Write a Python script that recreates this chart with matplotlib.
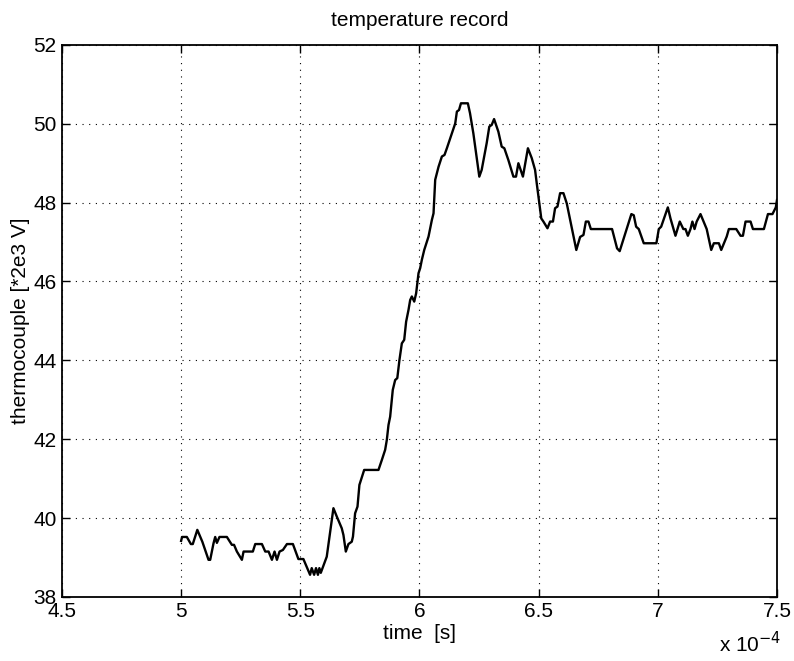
import matplotlib.pyplot as plt

plt.rcParams['font.family'] = ['Liberation Sans', 'DejaVu Sans']

# time in units of 1e-4 s, thermocouple reading [*2e3 V]
time = [5.000, 5.004, 5.024, 5.041, 5.049, 5.068, 5.089, 5.115, 5.122, 5.136,
        5.143, 5.150, 5.161, 5.192, 5.213, 5.222, 5.234, 5.255, 5.262, 5.301,
        5.311, 5.339, 5.353, 5.367, 5.381, 5.392, 5.402, 5.413, 5.427, 5.444,
        5.469, 5.492, 5.513, 5.541, 5.548, 5.558, 5.566, 5.574, 5.580, 5.586,
        5.611, 5.639, 5.653, 5.674, 5.681, 5.691, 5.702, 5.716, 5.721, 5.730,
        5.740, 5.748, 5.768, 5.828, 5.842, 5.856, 5.863, 5.870, 5.877, 5.888,
        5.898, 5.907, 5.916, 5.926, 5.936, 5.944, 5.954, 5.961, 5.968, 5.978,
        5.986, 5.996, 6.003, 6.010, 6.020, 6.038, 6.052, 6.059, 6.066, 6.080,
        6.094, 6.105, 6.115, 6.136, 6.150, 6.157, 6.166, 6.174, 6.203, 6.212,
        6.226, 6.251, 6.261, 6.282, 6.293, 6.303, 6.313, 6.331, 6.345, 6.356,
        6.373, 6.394, 6.405, 6.415, 6.434, 6.455, 6.471, 6.485, 6.492, 6.511,
        6.520, 6.537, 6.548, 6.560, 6.569, 6.579, 6.590, 6.604, 6.618, 6.658,
        6.674, 6.688, 6.698, 6.709, 6.719, 6.808, 6.829, 6.840, 6.889, 6.899,
        6.909, 6.920, 6.941, 6.994, 7.004, 7.014, 7.042, 7.053, 7.074, 7.092,
        7.107, 7.116, 7.126, 7.137, 7.145, 7.154, 7.163, 7.179, 7.205, 7.224,
        7.235, 7.256, 7.266, 7.289, 7.298, 7.329, 7.347, 7.357, 7.368, 7.389,
        7.399, 7.445, 7.462, 7.481, 7.495, 7.500]
temp = [39.42, 39.52, 39.52, 39.34, 39.34, 39.70, 39.40, 38.94, 38.94, 39.36,
        39.52, 39.37, 39.52, 39.52, 39.32, 39.32, 39.15, 38.94, 39.15, 39.15,
        39.34, 39.34, 39.15, 39.15, 38.94, 39.15, 38.94, 39.15, 39.19, 39.34,
        39.34, 38.96, 38.96, 38.56, 38.73, 38.56, 38.73, 38.56, 38.73, 38.61,
        39.02, 40.25, 40.04, 39.74, 39.57, 39.15, 39.34, 39.40, 39.53, 40.12,
        40.29, 40.84, 41.22, 41.22, 41.47, 41.73, 41.98, 42.36, 42.57, 43.25,
        43.50, 43.55, 44.01, 44.43, 44.52, 44.98, 45.28, 45.53, 45.62, 45.49,
        45.70, 46.21, 46.34, 46.55, 46.80, 47.14, 47.56, 47.73, 48.58, 48.91,
        49.17, 49.21, 49.38, 49.76, 50.01, 50.31, 50.35, 50.52, 50.52, 50.27,
        49.76, 48.66, 48.83, 49.51, 49.93, 49.97, 50.12, 49.80, 49.42, 49.38,
        49.08, 48.66, 48.66, 49.00, 48.66, 49.38, 49.13, 48.83, 48.49, 47.60,
        47.52, 47.35, 47.52, 47.52, 47.86, 47.90, 48.24, 48.24, 47.98, 46.80,
        47.13, 47.18, 47.52, 47.52, 47.33, 47.33, 46.84, 46.77, 47.71, 47.68,
        47.39, 47.33, 46.97, 46.97, 47.33, 47.39, 47.88, 47.60, 47.16, 47.52,
        47.33, 47.33, 47.16, 47.33, 47.52, 47.33, 47.52, 47.71, 47.33, 46.80,
        46.97, 46.97, 46.80, 47.14, 47.33, 47.33, 47.16, 47.16, 47.52, 47.52,
        47.33, 47.33, 47.71, 47.71, 47.88, 48.07]

xticks = [4.5, 5, 5.5, 6, 6.5, 7, 7.5]
xticklabels = ['4.5', '5', '5.5', '6', '6.5', '7', '7.5']
yticks = [38, 40, 42, 44, 46, 48, 50, 52]

fig = plt.figure(figsize=(7.94, 6.61), dpi=100)
ax = fig.add_axes([0.078, 0.097, 0.9006, 0.835])

ax.plot(time, temp, color='black', lw=1.7)

ax.set_xlim(4.5, 7.5)
ax.set_ylim(38, 52)
ax.set_xticks(xticks)
ax.set_xticklabels(xticklabels)
ax.set_yticks(yticks)
ax.tick_params(direction='in', length=6, width=1, labelsize=15,
               top=True, right=True, pad=4)
ax.grid(True, color='black', linestyle=(0, (1, 5)), linewidth=0.8)
for s in ax.spines.values():
    s.set_linewidth(1.3)

ax.set_title('temperature record', fontsize=15, pad=14)
ax.set_xlabel('time  [s]', fontsize=15, labelpad=2)
ax.set_ylabel('thermocouple [*2e3 V]', fontsize=15, labelpad=2)
fig.text(0.905, 0.008, r'x 10$^{-4}$', fontsize=15, ha='left', va='bottom')

fig.savefig('out.png', dpi=100)
